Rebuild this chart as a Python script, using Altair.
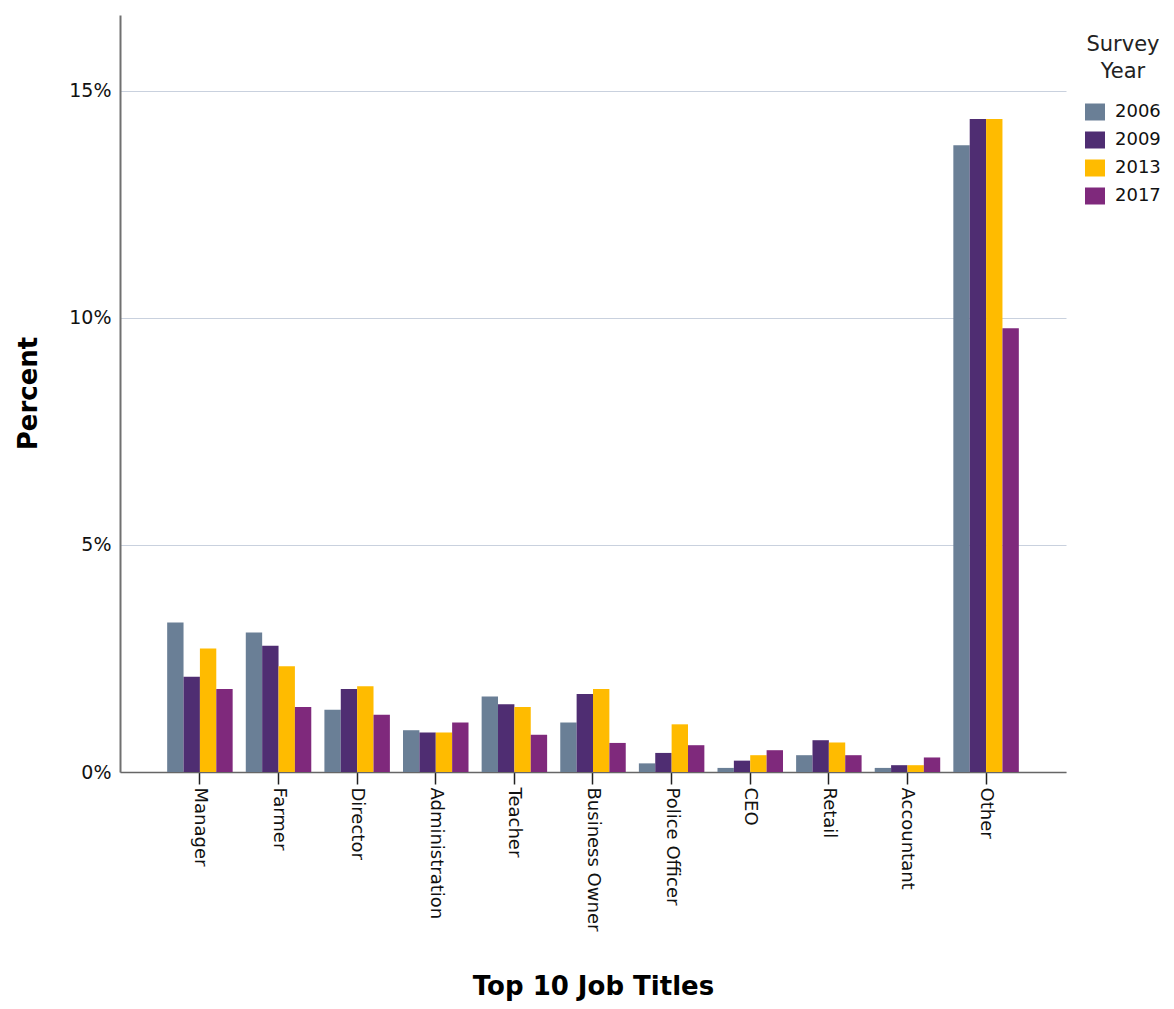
import altair as alt
import pandas as pd

jobs = ["Manager", "Farmer", "Director", "Administration", "Teacher", "Business Owner",
        "Police Officer", "CEO", "Retail", "Accountant", "Other"]
years = ["2006", "2009", "2013", "2017"]
v2006 = [3.29, 3.07, 1.37, 0.92, 1.66, 1.09, 0.19, 0.09, 0.37, 0.09, 13.80]
v2009 = [2.10, 2.78, 1.83, 0.87, 1.49, 1.72, 0.42, 0.25, 0.70, 0.15, 14.38]
v2013 = [2.72, 2.33, 1.89, 0.87, 1.43, 1.83, 1.05, 0.37, 0.65, 0.15, 14.38]
v2017 = [1.83, 1.43, 1.26, 1.09, 0.82, 0.64, 0.59, 0.48, 0.37, 0.32, 9.77]
colors = ["#6a7f96", "#4f2d72", "#ffbb00", "#7f297c"]

rows = []
for yr, vals in zip(years, [v2006, v2009, v2013, v2017]):
    for j, v in zip(jobs, vals):
        rows.append({"job": j, "year": yr, "pct": v})
df = pd.DataFrame(rows)

FONT = "DejaVu Sans"

chart = alt.Chart(df).mark_bar(stroke=None).encode(
    x=alt.X("job:N", sort=jobs,
            scale=alt.Scale(paddingInner=0.167, paddingOuter=0.6),
            axis=alt.Axis(title="Top 10 Job Titles", labelAngle=90, labelAlign="left",
                          labelBaseline="middle", labelFontSize=18, labelFont=FONT,
                          labelColor="#111", labelPadding=3, tickSize=12, tickColor="#222",
                          tickWidth=1.5, domainColor="#666", domainWidth=1.5,
                          titleFont=FONT, titleFontSize=26, titleFontWeight="bold",
                          titleColor="#000", titleY=222, titleBaseline="alphabetic")),
    xOffset=alt.XOffset("year:N", sort=years, scale=alt.Scale(paddingInner=0, paddingOuter=0)),
    y=alt.Y("pct:Q", scale=alt.Scale(domain=[0, 16.67], nice=False),
            axis=alt.Axis(title="Percent", values=[0, 5, 10, 15],
                          labelExpr="datum.value + '%'", labelFontSize=19, labelFont=FONT,
                          labelColor="#111", labelPadding=9, tickSize=0, domainColor="#707070",
                          domainWidth=2, gridColor="#c9d1de", gridWidth=1,
                          titleFont=FONT, titleFontSize=26, titleFontWeight="bold",
                          titleColor="#000", titleX=-84, titleY=378, titleAngle=-90,
                          titleAlign="center", titleBaseline="alphabetic")),
    color=alt.Color("year:N", sort=years,
                    scale=alt.Scale(domain=years, range=colors),
                    legend=alt.Legend(title=["Survey", "Year"], orient="none",
                                      legendX=965, legendY=19,
                                      titleFont=FONT, titleFontSize=21, titleFontWeight="normal",
                                      titleColor="#222", titleLineHeight=27,
                                      titleAlign="center", titleAnchor="middle",
                                      titlePadding=20,
                                      labelFont=FONT, labelFontSize=18, labelColor="#111",
                                      labelOffset=10,
                                      symbolType="M-1,-0.85L1,-0.85L1,0.85L-1,0.85Z",
                                      symbolSize=400, symbolStrokeWidth=0, symbolOpacity=1,
                                      rowPadding=9)),
).properties(
    width=946, height=757,
    autosize=alt.AutoSizeParams(type="none"),
    padding={"left": 112, "top": 7, "right": 96, "bottom": 229},
).configure_view(stroke=None).configure_axisX(grid=False)

chart.save("out.html", embed_options={"renderer": "svg", "actions": False})
